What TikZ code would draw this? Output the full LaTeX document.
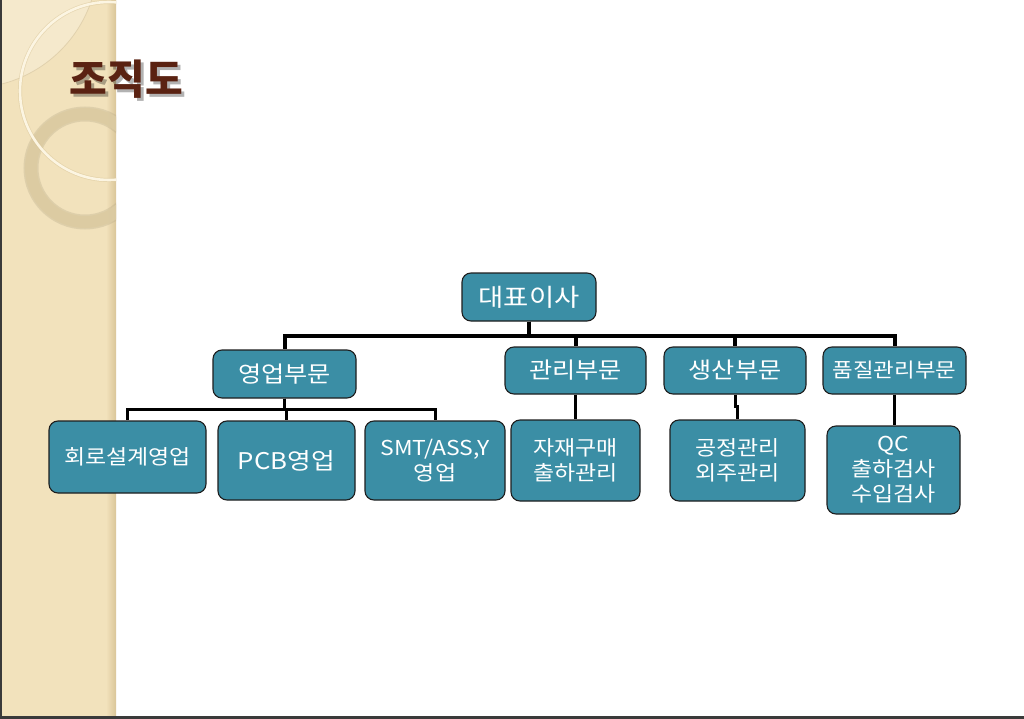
\documentclass[tikz,border=0pt]{standalone}
\usepackage{fontspec}
\newfontfamily\kr{Noto Sans CJK KR}
\newfontfamily\krw[FakeStretch=1.12]{Noto Sans CJK KR}
\definecolor{strip}{HTML}{F2E2BC}
\definecolor{stripdark}{HTML}{D9C598}
\definecolor{cream}{HTML}{FCF5E2}
\definecolor{ringc}{HTML}{DCCBA2}
\definecolor{teal}{HTML}{3B8EA5}
\definecolor{edge}{HTML}{1E1E1E}
\definecolor{titlebrown}{HTML}{5A2212}
\definecolor{frame}{HTML}{3A3A3A}
\tikzset{
  box/.style={draw=edge, line width=1.1pt, fill=teal, rounded corners=9pt,
    text=white, align=center, inner sep=2pt},
  lvA/.style={box, font=\krw\fontsize{22.5}{25}\selectfont},
  lvB/.style={box, font=\krw\fontsize{20.5}{25}\selectfont},
  bus/.style={line width=4pt, black},
  sub/.style={line width=3pt, black},
  ttl/.style={font=\kr\bfseries\fontsize{41}{41}\selectfont}
}
\begin{document}
\begin{tikzpicture}[x=1pt,y=-1pt]
\useasboundingbox (0,0) rectangle (1024,719);
\fill[white] (0,0) rectangle (1024,719);
% left decorative strip
\fill[strip] (0,0) rectangle (116,719);
\shade[left color=strip, right color=stripdark] (106,0) rectangle (116,719);
\begin{scope}
  \clip (0,0) rectangle (116,719);
  \fill[white, opacity=0.25] (-30,-40) circle[radius=128pt];
  \draw[stripdark!80, line width=0.8pt] (-30,-40) circle[radius=128pt];
  \draw[ringc!85!black, line width=15pt, opacity=0.35] (85,168) circle[radius=54pt];
  \draw[ringc, line width=12pt, opacity=0.9] (85,168) circle[radius=54pt];
  \draw[stripdark, line width=4pt, opacity=0.5] (109,91) circle[radius=89pt];
  \draw[cream, line width=2.6pt] (109,91) circle[radius=89pt];
\end{scope}
% frame lines
\fill[frame] (0,0) rectangle (2,719);
\fill[frame] (0,716) rectangle (1024,719);
% title with shadow
\node[ttl, text=black, opacity=0.3] (titleshadow) at (129.5,82.5) {조직도};
\node[ttl, text=titlebrown] (title) at (126.5,79) {조직도};
% level 0
\node[lvA, minimum width=134pt, minimum height=48pt, font=\krw\fontsize{24.5}{25}\selectfont] (ceo) at (529,297) {대표이사};
% level 1
\node[lvA, minimum width=143pt, minimum height=48pt] (sales) at (284.5,374) {영업부문};
\node[lvA, minimum width=141pt, minimum height=47pt] (admin) at (575.5,370.5) {관리부문};
\node[lvA, minimum width=142pt, minimum height=47pt] (prod) at (735,370.5) {생산부문};
\node[lvA, minimum width=143pt, minimum height=47pt, font=\krw\fontsize{20}{25}\selectfont] (qa) at (894.5,370.5) {품질관리부문};
% level 2
\node[lvB, minimum width=157pt, minimum height=72pt] (s1) at (127.5,457) {회로설계영업};
\node[lvB, minimum width=137pt, minimum height=79pt, font=\krw\fontsize{23}{25}\selectfont] (s2) at (286.5,460.5) {PCB영업};
\node[lvB, minimum width=140pt, minimum height=79pt] (s3) at (435,460.5) {SMT/ASS,Y\\영업};
\node[lvB, minimum width=129pt, minimum height=81pt] (a1) at (575.5,460.5) {자재구매\\출하관리};
\node[lvB, minimum width=135pt, minimum height=81pt] (p1) at (737.5,460.5) {공정관리\\외주관리};
\node[lvB, minimum width=133pt, minimum height=88pt] (q1) at (893.5,470) {QC\\출하검사\\수입검사};
% connectors
\draw[bus] (ceo.south) -- ++(0,14) -| (sales.north);
\draw[bus] (ceo.south) -- ++(0,14) -| (admin.north);
\draw[bus] (ceo.south) -- ++(0,14) -| (prod.north);
\draw[bus] (ceo.south) -- ++(0,14) -| (qa.north);
\draw[sub] (sales.south) -- ++(0,11) -| (s1.north);
\draw[sub] (sales.south) -- ++(0,11) -| (s2.north);
\draw[sub] (sales.south) -- ++(0,11) -| (s3.north);
\draw[sub] (admin.south) -- (admin.south |- a1.north);
\draw[sub] (prod.south) -- ++(0,12) -| (p1.north);
\draw[sub] (qa.south) -- (qa.south |- q1.north);
\end{tikzpicture}
\end{document}
